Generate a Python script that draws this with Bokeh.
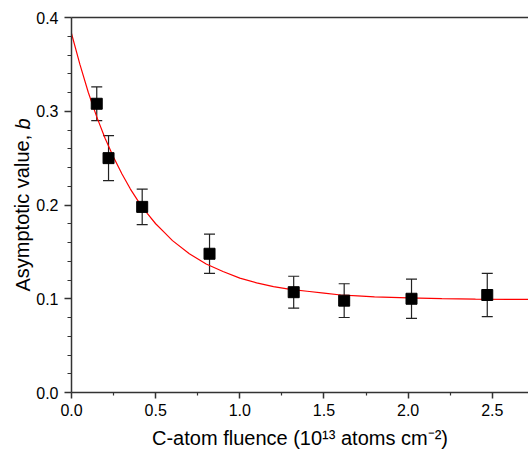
from bokeh.plotting import figure
from bokeh.models import (Range1d, LinearAxis, FixedTicker, Whisker, ColumnDataSource,
                          Label, TeeHead, PrintfTickFormatter)
from bokeh.embed import file_html
from bokeh.resources import INLINE

# measured data points
fluence = [0.15, 0.22, 0.42, 0.82, 1.32, 1.62, 2.02, 2.47]
b_value = [0.308, 0.250, 0.198, 0.148, 0.107, 0.098, 0.100, 0.104]
b_error = [0.018, 0.024, 0.019, 0.021, 0.017, 0.018, 0.021, 0.023]

# fitted curve
fit_x = [0.0, 0.05, 0.1, 0.15, 0.2, 0.25, 0.3, 0.35, 0.4, 0.45, 0.5, 0.55, 0.6, 0.7, 0.8,
         0.9, 1.0, 1.1, 1.2, 1.3, 1.4, 1.5, 1.6, 1.7, 1.8, 1.9, 2.0, 2.2, 2.4, 2.6, 2.8]
fit_y = [0.383, 0.350, 0.320, 0.294, 0.271, 0.251, 0.233, 0.217, 0.203, 0.191, 0.180, 0.171,
         0.162, 0.148, 0.137, 0.129, 0.122, 0.117, 0.113, 0.110, 0.108, 0.106, 0.104, 0.103,
         0.102, 0.1015, 0.1009, 0.1002, 0.0997, 0.0994, 0.0993]

x_ticks = [0.0, 0.5, 1.0, 1.5, 2.0, 2.5]
x_minor = [0.25, 0.75, 1.25, 1.75, 2.25, 2.75]
y_ticks = [0.0, 0.1, 0.2, 0.3, 0.4]
y_minor = [0.02, 0.04, 0.06, 0.08, 0.12, 0.14, 0.16, 0.18, 0.22, 0.24, 0.26, 0.28,
           0.32, 0.34, 0.36, 0.38]

x_title = "C-atom fluence (10\u00b9\u00b3 atoms cm\u207b\u00b2)"
y_title = "Asymptotic value, "
y_title_var = "b"

FONT = "Liberation Sans"
AX = "#333333"

p = figure(width=528, height=460, output_backend="svg", toolbar_location=None,
           x_range=Range1d(0, 2.715), y_range=Range1d(0, 0.4),
           min_border_left=71, min_border_right=0, min_border_top=17, min_border_bottom=68)
p.outline_line_color = None
p.xgrid.visible = False
p.ygrid.visible = False

for ax in (p.xaxis[0], p.yaxis[0]):
    ax.axis_line_color = AX
    ax.axis_line_width = 1.5
    ax.major_tick_line_color = AX
    ax.major_tick_line_width = 1.5
    ax.minor_tick_line_color = AX
    ax.minor_tick_line_width = 1.2
    ax.major_tick_in = 0
    ax.minor_tick_in = 0
    ax.major_label_text_font = FONT
    ax.major_label_text_font_size = "16px"
    ax.major_label_text_color = "black"
    ax.formatter = PrintfTickFormatter(format="%.1f")

xa = p.xaxis[0]
xa.ticker = FixedTicker(ticks=x_ticks, minor_ticks=x_minor)
xa.major_tick_out = 6
xa.minor_tick_out = 3
xa.major_label_standoff = 5
xa.axis_label = x_title
xa.axis_label_text_font = FONT
xa.axis_label_text_font_size = "20px"
xa.axis_label_text_font_style = "normal"
xa.axis_label_text_color = "black"
xa.axis_label_standoff = 8

ya = p.yaxis[0]
ya.ticker = FixedTicker(ticks=y_ticks, minor_ticks=y_minor)
ya.major_tick_out = 7
ya.minor_tick_out = 4
ya.major_label_standoff = 6

top = LinearAxis(ticker=FixedTicker(ticks=[]), axis_line_color=AX, axis_line_width=1.5,
                 major_tick_line_color=None, minor_tick_line_color=None,
                 major_tick_out=0, minor_tick_out=0, major_label_standoff=0,
                 major_label_text_font_size="0px")
p.add_layout(top, "above")

# y-axis title: upright part in the left panel, italic "b" in the top panel
lab1 = Label(x=11, y=101, x_units="screen", y_units="screen", text=y_title,
             angle=1.5708, text_align="left", text_baseline="alphabetic",
             text_font=FONT, text_font_size="20px", text_color="black")
lab2 = Label(x=-49, y=-112, x_units="screen", y_units="screen", text=y_title_var,
             angle=1.5708, text_align="left", text_baseline="alphabetic",
             text_font=FONT, text_font_size="20px", text_font_style="italic",
             text_color="black")
p.add_layout(lab1, "left")
p.add_layout(lab2, "above")

# fitted curve
p.line(fit_x, fit_y, line_color="red", line_width=1.2)

# error bars
src = ColumnDataSource(dict(
    x=fluence, y=b_value,
    upper=[v + e for v, e in zip(b_value, b_error)],
    lower=[v - e for v, e in zip(b_value, b_error)],
))
w = Whisker(source=src, base="x", upper="upper", lower="lower", dimension="height",
            line_color="#222222", line_width=1.2,
            upper_head=TeeHead(size=11, line_color="#222222", line_width=1.2),
            lower_head=TeeHead(size=11, line_color="#222222", line_width=1.2))
p.add_layout(w)

p.scatter("x", "y", source=src, marker="square", size=11, fill_color="black",
          line_color="black")

open("out.html", "w").write(file_html(p, INLINE))
